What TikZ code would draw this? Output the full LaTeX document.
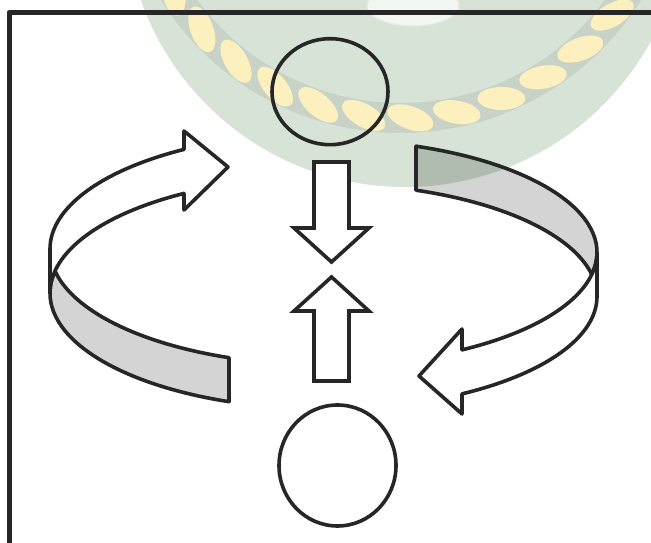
\documentclass[tikz,border=0pt]{standalone}
\usetikzlibrary{calc,shapes.geometric}
\definecolor{ink}{RGB}{38,38,38}
\definecolor{wmgreen}{RGB}{214,227,214}
\definecolor{wmrope}{RGB}{200,210,198}
\definecolor{wmbead}{RGB}{251,240,190}
\begin{document}
\begin{tikzpicture}[x=1pt,y=1pt,
  ribbon/.style={draw=ink, line width=3.6pt, line join=round},
  grayband/.style={ribbon, fill=black, fill opacity=0.17},
  whiteband/.style={ribbon, fill=white},
  blockarrow/.style={draw=ink, line width=3.6pt, fill=white, line join=miter},
  blob/.style={draw=ink, line width=3.6pt, ellipse, inner sep=0pt, outer sep=0pt},
  framestyle/.style={draw=ink, line width=5pt, line join=round}]
\useasboundingbox (0,0) rectangle (651,543);
\begin{scope}
  \clip (0,0) rectangle (651,543);
  \fill[white] (0,0) rectangle (651,543);
  % faint watermark
  \fill[wmgreen] (405,636) circle[radius=280];
  \draw[wmrope, line width=30pt] (401,693) circle[radius=268];
  \foreach \a in {-28,-38,...,-158}{
    \begin{scope}[shift={(401,693)}, rotate=\a, shift={(268,0)}, rotate=68]
      \fill[wmbead] (0,0) ellipse[x radius=24, y radius=11.5];
    \end{scope}
  }
  \fill[white!70!wmgreen, draw=gray!18, line width=1.2pt] (413,537) ellipse[x radius=46, y radius=20];

  % frame
  \coordinate (fb) at (9,-10);
  \coordinate (fc) at (9,530.5);
  \coordinate (fr) at (670,530.5);
  \draw[framestyle] (fb) -- (fc) -- (fr);

  % ellipse centres of the ribbons
  \coordinate (L1) at (325,294);
  \coordinate (L2) at (325,250);
  \coordinate (R1) at (323,290.5);
  \coordinate (R2) at (323,246.5);

  % left ribbon: gray front band
  \path[grayband] ($(L1)+(190.93:275pt and 116pt)$)
    arc[start angle=190.93, end angle=249.57, x radius=275pt, y radius=116pt]
    -- ($(L2)+(249.57:275pt and 116pt)$)
    arc[start angle=249.57, end angle=169.07, x radius=275pt, y radius=116pt]
    -- cycle;
  % left ribbon: white back band with arrow head
  \coordinate (LnT) at (184,412);
  \coordinate (Ltip) at (228,376);
  \coordinate (LnB) at (184,333);
  \path[whiteband] ($(L1)+(120.845:275pt and 116pt)$)
    arc[start angle=120.845, end angle=180, x radius=275pt, y radius=116pt]
    -- ($(L2)+(180:275pt and 116pt)$)
    arc[start angle=180, end angle=120.845, x radius=275pt, y radius=116pt]
    -- (LnB) -- (Ltip) -- (LnT) -- cycle;

  % right ribbon: gray back band
  \path[grayband] ($(R2)+(11.227:274pt and 113pt)$)
    arc[start angle=11.227, end angle=70.16, x radius=274pt, y radius=113pt]
    -- ($(R1)+(70.16:274pt and 113pt)$)
    arc[start angle=70.16, end angle=-11.227, x radius=274pt, y radius=113pt]
    -- cycle;
  % right ribbon: white front band with arrow head
  \coordinate (RnT) at (462,214);
  \coordinate (Rtip) at (419,167);
  \coordinate (RnB) at (462,129);
  \path[whiteband] ($(R2)+(-59.51:274pt and 113pt)$)
    arc[start angle=-59.51, end angle=0, x radius=274pt, y radius=113pt]
    -- ($(R1)+(0:274pt and 113pt)$)
    arc[start angle=0, end angle=-59.51, x radius=274pt, y radius=113pt]
    -- (RnT) -- (Rtip) -- (RnB) -- cycle;

  % central block arrows
  \draw[blockarrow] (314,381) -- (349,381) -- (349,315) -- (369,315)
    -- (331.5,281) -- (294,315) -- (314,315) -- cycle;
  \draw[blockarrow] (331.5,266) -- (369,232) -- (349,232) -- (349,162)
    -- (314,162) -- (314,232) -- (294,232) -- cycle;

  % the two ellipses
  \node[blob, minimum width=116pt, minimum height=106pt] (topc) at (330,451.3) {};
  \node[blob, minimum width=117pt, minimum height=121pt] (botc) at (337.5,77.5) {};
\end{scope}
\end{tikzpicture}
\end{document}
